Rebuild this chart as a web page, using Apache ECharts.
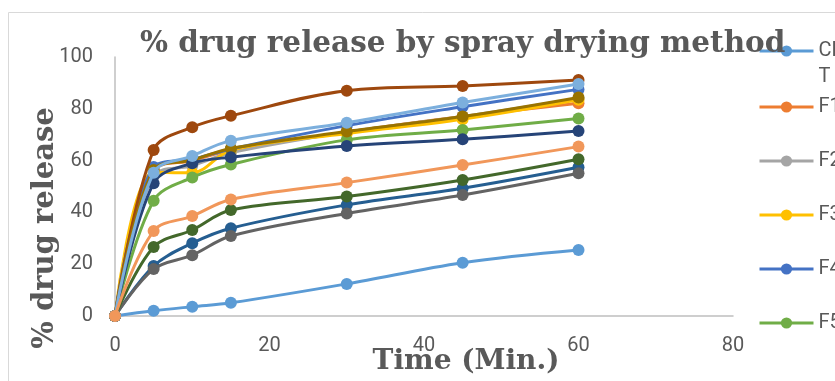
<!DOCTYPE html>
<html>
<head>
<meta charset="utf-8">
<script src="https://cdn.jsdelivr.net/npm/echarts@6/dist/echarts.min.js"></script>
<style>
  html, body { margin: 0; padding: 0; background: #fff; }
  #chart { width: 835px; height: 381px; }
</style>
</head>
<body>
<div id="chart"></div>
<script>
// time points (min)
const times = [0, 5, 10, 15, 30, 45, 60];

// % drug release per formulation
const CLT = [0, 2, 3.6, 5.1, 12.4, 20.6, 25.5];
const F1 = [0, 56, 60, 64, 71, 77, 82.1];
const F2 = [0, 54, 58, 63, 71, 77, 84];
const F3 = [0, 55.5, 55.3, 64, 70.5, 76, 83.5];
const F4 = [0, 57.5, 60.5, 64.5, 73.5, 80.8, 87.5];
const F5 = [0, 44.5, 53.5, 58.5, 68, 71.8, 76.3];
const F6 = [0, 19.3, 28.1, 33.9, 42.9, 49.3, 57.4];
const F7 = [0, 64.1, 72.9, 77.3, 87, 88.8, 91.1];
const F8 = [0, 18.1, 23.5, 30.9, 39.6, 46.7, 55.1];
const F9 = [0, 56.4, 60.2, 64.7, 71.2, 77, 84.4];
const F10 = [0, 51.3, 59, 61.3, 65.6, 68.2, 71.4];
const F11 = [0, 26.6, 33.2, 40.9, 46.1, 52.5, 60.5];
const F12 = [0, 55.3, 61.8, 67.7, 74.6, 82.4, 89.6];
const F13 = [0, 32.8, 38.6, 45, 51.5, 58.3, 65.4];

const seriesNames = ['CLT', 'F1', 'F2', 'F3', 'F4', 'F5', 'F6', 'F7', 'F8', 'F9', 'F10', 'F11', 'F12', 'F13'];
const seriesValues = [CLT, F1, F2, F3, F4, F5, F6, F7, F8, F9, F10, F11, F12, F13];

// office palette
const colors = ['#5b9bd5', '#ed7d31', '#a5a5a5', '#ffc000', '#4472c4', '#70ad47', '#255e91',
    '#9e480e', '#636363', '#997300', '#264478', '#43682b', '#7cafdd', '#f1975a'];

const labelFont = 'Roboto, "Liberation Sans", sans-serif';
const titleFont = '"DejaVu Serif", serif';

// shared legend look
const legendBase = {
    orient: 'vertical',
    left: 753,
    itemWidth: 54,
    itemHeight: 14,
    itemGap: 28,
    lineStyle: { width: 3 },
    textStyle: {
        fontFamily: labelFont,
        fontSize: 20,
        lineHeight: 26,
        color: '#595959',
    },
};

const instance = echarts.init(document.querySelector('#chart'));
instance.setOption({
    animation: false,
    color: colors,
    title: {
        text: '% drug release by spray drying method',
        left: 135,
        top: 24,
        textStyle: {
            fontFamily: titleFont,
            fontWeight: 'bold',
            fontSize: 29.5,
            color: '#595959',
        },
    },
    legend: [
        // CLT wraps onto a second line in the original
        Object.assign({}, legendBase, {
            top: 7,
            formatter: () => ' \nCL\nT',
            data: ['CLT'],
        }),
        Object.assign({}, legendBase, {
            top: 89,
            data: ['F1', 'F2', 'F3', 'F4', 'F5'],
        }),
    ],
    grid: {
        left: 115,
        right: 102,
        top: 57,
        bottom: 65,
    },
    xAxis: {
        type: 'value',
        min: 0,
        max: 80,
        interval: 20,
        splitLine: { show: false },
        axisTick: { show: false },
        axisLine: { lineStyle: { color: '#bfbfbf', width: 1.5 } },
        axisLabel: {
            color: '#595959',
            fontFamily: labelFont,
            fontSize: 20,
            margin: 20,
        },
    },
    yAxis: {
        type: 'value',
        min: 0,
        max: 100,
        interval: 20,
        splitLine: { show: false },
        axisTick: { show: false },
        axisLine: { show: true, lineStyle: { color: '#bfbfbf', width: 1.5 } },
        axisLabel: {
            color: '#595959',
            fontFamily: labelFont,
            fontSize: 20,
            margin: 22,
        },
    },
    graphic: [
        {
            type: 'rect',
            silent: true,
            shape: { x: 8.5, y: 12.5, width: 900, height: 500 },
            style: { fill: 'none', stroke: '#d9d9d9', lineWidth: 1 },
            z: -1,
        },
        {
            type: 'text',
            x: 466,
            y: 362,
            style: {
                text: 'Time (Min.)',
                font: 'bold 28px ' + titleFont,
                fill: '#595959',
                align: 'center',
                verticalAlign: 'middle',
            },
        },
        {
            type: 'text',
            x: 45,
            y: 228,
            rotation: Math.PI / 2,
            style: {
                text: '% drug release',
                font: 'bold 29px ' + titleFont,
                fill: '#595959',
                align: 'center',
                verticalAlign: 'middle',
            },
        },
    ],
    series: seriesNames.map((name, i) => ({
        name: name,
        type: 'line',
        z: 3 + i,
        data: times.map((t, j) => [t, seriesValues[i][j]]),
        smooth: 0.35,
        symbol: 'circle',
        symbolSize: 12,
        lineStyle: { width: 3 },
    })),
});
</script>
</body>
</html>
